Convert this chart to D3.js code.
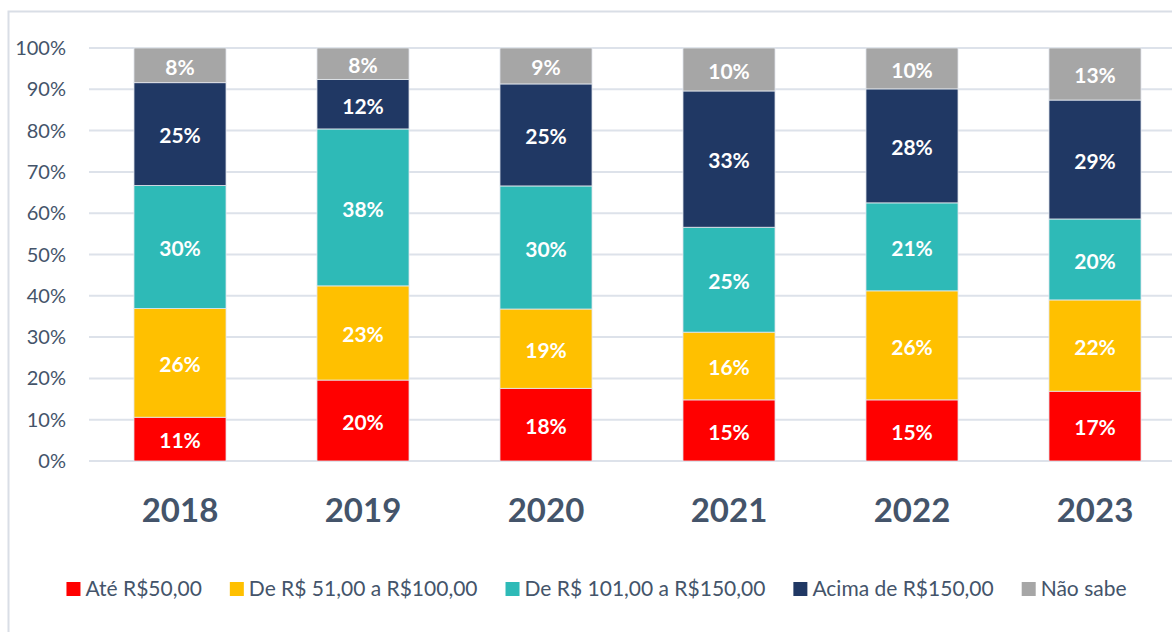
<!DOCTYPE html>
<html>
<head>
<meta charset="utf-8">
<script src="https://cdn.jsdelivr.net/npm/d3@7"></script>
<style>
  body { margin: 0; background: #fff; }
  text { font-family: Lato, "Open Sans", sans-serif; }
</style>
</head>
<body>
<div id="chart"></div>
<script>
var w = 1172
var h = 632

var years = ["2018", "2019", "2020", "2021", "2022", "2023"];
var seriesNames = ["Até R$50,00", "De R$ 51,00 a R$100,00", "De R$ 101,00 a R$150,00", "Acima de R$150,00", "Não sabe"];
var colors = ["#FF0000", "#FFC000", "#2EBAB7", "#203864", "#A6A6A6"];

// percent shares per year, bottom to top
var ate50    = [10.6, 19.6, 17.6, 14.8, 14.8, 16.9];
var de51a100 = [26.3, 22.8, 19.2, 16.4, 26.4, 22.1];
var de101a150 = [29.8, 38.0, 29.8, 25.4, 21.3, 19.6];
var acima150 = [24.9, 12.0, 24.7, 33.0, 27.6, 28.8];
var naoSabe  = [8.4, 7.6, 8.7, 10.4, 9.9, 12.6];

var yTicks = [0, 10, 20, 30, 40, 50, 60, 70, 80, 90, 100];

var seriesValues = [ate50, de51a100, de101a150, acima150, naoSabe];
var table = years.map(function(y, i) {
  var row = { year: y };
  seriesNames.forEach(function(s, j) { row[s] = seriesValues[j][i]; });
  return row;
});

var stacked = d3.stack().keys(seriesNames)(table);

var svg = d3.select("#chart").append("svg")
    .attr("width", w)
    .attr("height", h);

// chart frame
svg.append("rect")
    .attr("x", 8.5).attr("y", 11.5)
    .attr("width", w + 20).attr("height", h + 20)
    .attr("fill", "none")
    .attr("stroke", "#D9DEE6")
    .attr("stroke-width", 2);

var x = d3.scaleBand().domain(years).range([88.5, 1186.5]).paddingInner(0.497).paddingOuter(0.2485);
var y = d3.scaleLinear().domain([0, 100]).range([461, 48]);

// gridlines
svg.selectAll("line.grid").data(yTicks).enter()
  .append("line")
    .attr("class", "grid")
    .attr("x1", 89).attr("x2", w)
    .attr("y1", function(d) { return y(d); })
    .attr("y2", function(d) { return y(d); })
    .attr("stroke", "#DDE2EA")
    .attr("stroke-width", 2);

// y axis labels
svg.selectAll("text.ytick").data(yTicks).enter()
  .append("text")
    .attr("class", "ytick")
    .attr("x", 66)
    .attr("y", function(d) { return y(d); })
    .attr("dy", "0.35em")
    .attr("text-anchor", "end")
    .style("font-size", "20px")
    .style("fill", "#44546A")
    .text(function(d) { return d + "%"; });

var layer = svg.selectAll("g.layer").data(stacked).enter()
  .append("g")
    .attr("class", "layer")
    .attr("fill", function(d, i) { return colors[i]; });

layer.selectAll("rect").data(function(d) { return d; }).enter()
  .append("rect")
    .attr("x", function(d) { return x(d.data.year); })
    .attr("width", x.bandwidth())
    .attr("y", function(d) { return y(d[1]); })
    .attr("height", function(d) { return y(d[0]) - y(d[1]); })
    .attr("stroke", "#E4E8EE")
    .attr("stroke-width", 0.8);

layer.selectAll("text").data(function(d) { return d; }).enter()
  .append("text")
    .attr("x", function(d) { return x(d.data.year) + x.bandwidth() / 2; })
    .attr("y", function(d) { return (y(d[0]) + y(d[1])) / 2 + 2; })
    .attr("dy", "0.35em")
    .attr("text-anchor", "middle")
    .style("fill", "#fff")
    .style("font-size", "21px")
    .style("font-weight", "bold")
    .text(function(d) { return Math.round(d[1] - d[0]) + "%"; });

// year labels
svg.selectAll("text.year").data(years).enter()
  .append("text")
    .attr("class", "year")
    .attr("x", function(d) { return x(d) + x.bandwidth() / 2; })
    .attr("y", 522)
    .attr("text-anchor", "middle")
    .style("font-size", "33px")
    .style("font-weight", "bold")
    .style("fill", "#44546A")
    .text(function(d) { return d; });

// legend
var legend = svg.append("g");
var lx = 0;
seriesNames.forEach(function(s, i) {
  var item = legend.append("g").attr("transform", "translate(" + lx + ",0)");
  item.append("rect")
      .attr("x", 0).attr("y", -14)
      .attr("width", 14).attr("height", 14)
      .attr("fill", colors[i]);
  var t = item.append("text")
      .attr("x", 19).attr("y", 0)
      .style("font-size", "21px")
      .style("fill", "#44546A")
      .text(s);
  lx += 19 + t.node().getComputedTextLength() + 28;
});
var legendW = lx - 28;
legend.attr("transform", "translate(" + (596.5 - legendW / 2) + ",596)");
</script>
</body>
</html>
